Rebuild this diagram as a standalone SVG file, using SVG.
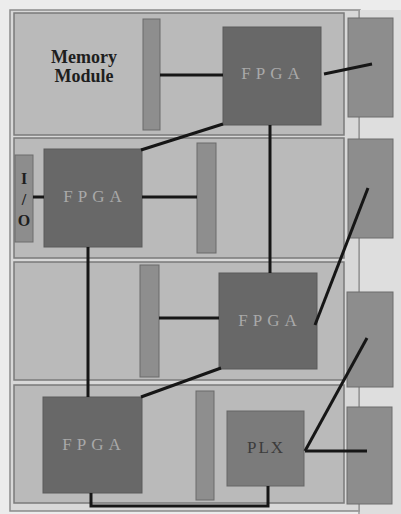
<svg xmlns="http://www.w3.org/2000/svg" width="401" height="514" viewBox="0 0 401 514">
<style>
.row{fill:#bababa;stroke:#7a7a7a;stroke-width:1.5}
.side{fill:#8d8d8d;stroke:#6c6c6c;stroke-width:1}
.bar{fill:#8e8e8e;stroke:#6a6a6a;stroke-width:1}
.fpga{fill:#686868;stroke:#5a5a5a;stroke-width:1}
.plx{fill:#7b7b7b;stroke:#666;stroke-width:1}
.ft{font-family:"Liberation Serif",serif;font-size:17px;fill:#a9a9a9;letter-spacing:5px;text-anchor:middle}
.lbl{font-family:"Liberation Serif",serif;font-weight:bold;fill:#1e1e1e;text-anchor:middle}
.wire{fill:none;stroke:#161616;stroke-width:3;stroke-linecap:butt}
</style>
<rect x="0" y="0" width="401" height="514" fill="#ececec"/>
<rect x="10" y="10" width="350" height="501" fill="#d8d8d8" stroke="#8a8a8a" stroke-width="1.5"/>
<rect x="360" y="10" width="41" height="504" fill="#dedede"/>
<line x1="359" y1="10" x2="359" y2="514" stroke="#9a9a9a" stroke-width="1.5"/>
<g id="row1"><rect class="row" x="14" y="13" width="330" height="122"/></g>
<g id="row2"><rect class="row" x="14" y="138" width="330" height="120"/></g>
<g id="row3"><rect class="row" x="14" y="262" width="330" height="118"/></g>
<g id="row4"><rect class="row" x="14" y="385" width="330" height="118"/></g>
<g id="memory-label"><text class="lbl" font-size="18" x="84" y="63">Memory</text><text class="lbl" font-size="18" x="84" y="82">Module</text></g>
<g id="side1"><rect class="side" x="348" y="18" width="45" height="99"/></g>
<g id="side2"><rect class="side" x="348" y="139" width="45" height="99"/></g>
<g id="side3"><rect class="side" x="347" y="292" width="46" height="95"/></g>
<g id="side4"><rect class="side" x="347" y="407" width="45" height="97"/></g>
<g id="bar1"><rect class="bar" x="143" y="19" width="17" height="111"/></g>
<g id="bar2"><rect class="bar" x="197" y="143" width="19" height="110"/></g>
<g id="bar3"><rect class="bar" x="140" y="265" width="19" height="112"/></g>
<g id="bar4"><rect class="bar" x="196" y="391" width="18" height="109"/></g>
<g id="io"><rect class="side" x="15" y="155" width="18" height="87"/><text class="lbl" font-size="16" x="24" y="184">I</text><text class="lbl" font-size="16" x="24" y="205">/</text><text class="lbl" font-size="16" x="24" y="226">O</text></g>
<g id="fpga1"><rect class="fpga" x="223" y="27" width="98" height="98"/><text class="ft" x="273" y="79">FPGA</text></g>
<g id="fpga2"><rect class="fpga" x="44" y="149" width="98" height="98"/><text class="ft" x="95" y="202">FPGA</text></g>
<g id="fpga3"><rect class="fpga" x="219" y="273" width="98" height="96"/><text class="ft" x="270" y="326">FPGA</text></g>
<g id="fpga4"><rect class="fpga" x="43" y="397" width="99" height="96"/><text class="ft" x="94" y="450">FPGA</text></g>
<g id="plx"><rect class="plx" x="227" y="411" width="77" height="75"/><text class="ft" x="266" y="453" style="fill:#3c3c3c;letter-spacing:2px">PLX</text></g>
<g id="connectors">
<line class="wire" x1="160" y1="75" x2="223" y2="75"/>
<line class="wire" x1="324" y1="74" x2="372" y2="64"/>
<line class="wire" x1="141" y1="150" x2="223" y2="124"/>
<line class="wire" x1="270" y1="125" x2="270" y2="273"/>
<line class="wire" x1="33" y1="197" x2="44" y2="197"/>
<line class="wire" x1="142" y1="197" x2="197" y2="197"/>
<line class="wire" x1="368" y1="188" x2="315" y2="325"/>
<line class="wire" x1="159" y1="318" x2="219" y2="318"/>
<line class="wire" x1="88" y1="247" x2="88" y2="397"/>
<line class="wire" x1="221" y1="368" x2="141" y2="397"/>
<line class="wire" x1="367" y1="338" x2="305" y2="451"/>
<line class="wire" x1="305" y1="451" x2="367" y2="451"/>
<polyline class="wire" points="91,493 91,506 268,506 268,486"/>
</g>
</svg>
